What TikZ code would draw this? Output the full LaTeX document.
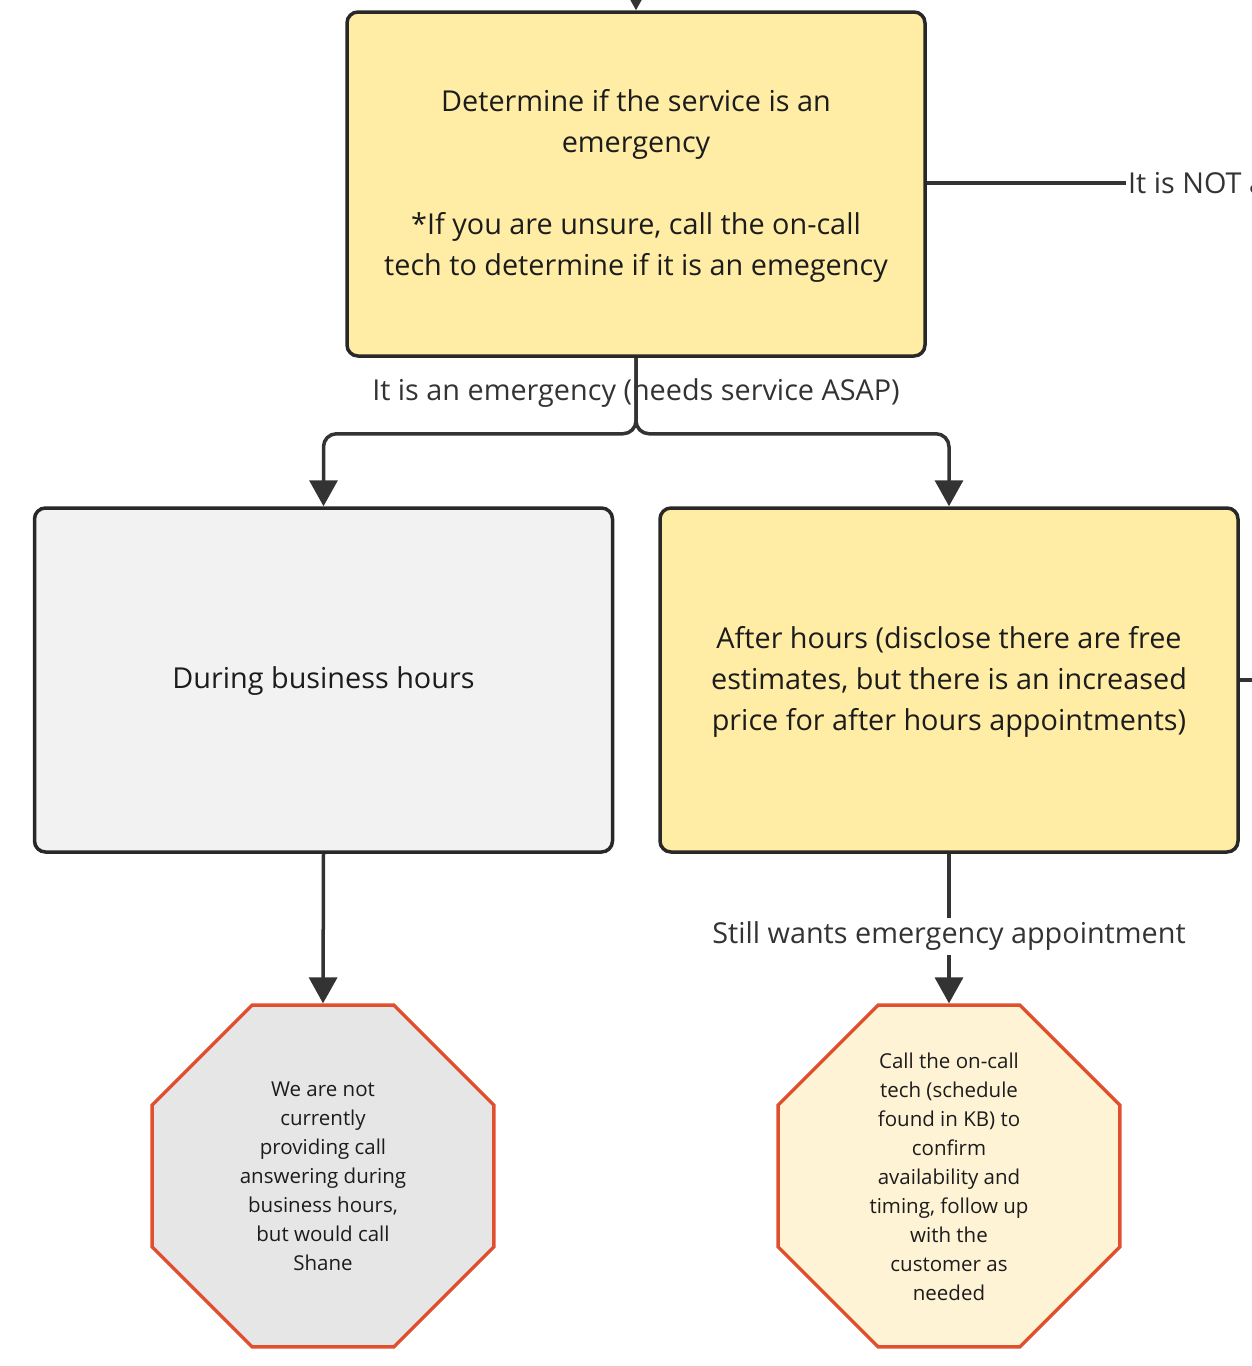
\documentclass[tikz,border=0pt]{standalone}
\usepackage{fontspec}
\setmainfont{Open Sans}
\usetikzlibrary{arrows.meta,shapes.geometric}
\definecolor{ink}{HTML}{282828}
\definecolor{txt}{HTML}{1C1C1C}
\definecolor{lineC}{HTML}{333333}
\definecolor{yel}{HTML}{FFEDA6}
\definecolor{lgray}{HTML}{F2F2F2}
\definecolor{ogray}{HTML}{E6E6E6}
\definecolor{cream}{HTML}{FFF3D6}
\definecolor{redor}{HTML}{E0502F}
\tikzset{
  box/.style={draw=ink, line width=3.5pt, rounded corners=11pt, minimum width=578pt, minimum height=344pt, align=center, inner sep=0pt, text=txt, font=\fontsize{28.8}{41}\selectfont},
  octa/.style={regular polygon, regular polygon sides=8, draw=redor, line width=3.4pt, minimum size=370pt, inner sep=0pt},
  octatext/.style={align=center, text=txt, inner sep=0pt, font=\fontsize{20.5}{29}\selectfont},
  conn/.style={draw=lineC, line width=3.5pt, -{Triangle[length=26pt,width=28pt]}},
  plain/.style={draw=lineC, line width=3.5pt},
  elabel/.style={text=lineC, font=\fontsize{28.8}{41}\selectfont, inner sep=2pt}
}
\begin{document}
\begin{tikzpicture}[x=1pt,y=-1pt]
\useasboundingbox (0,0) rectangle (1252,1366);
\clip (0,0) rectangle (1252,1366);
\node[box, fill=yel] (top) at (636,184) {};
\node[align=center, text=txt, inner sep=0pt, font=\fontsize{28.8}{41}\selectfont] (topt) at (636,185.5) {Determine if the service is an\\emergency\\[41pt]*If you are unsure, call the on-call\\tech to determine if it is an emegency};
\node[box, fill=lgray] (biz) at (323.5,680) {};
\node[align=center, text=txt, inner sep=0pt, font=\fontsize{28.8}{41}\selectfont] (bizt) at (323.5,681.5) {During business hours};
\node[box, fill=yel] (after) at (949,680) {};
\node[align=center, text=txt, inner sep=0pt, font=\fontsize{28.8}{41}\selectfont] (aftert) at (949,681.5) {After hours (disclose there are free\\estimates, but there is an increased\\price for after hours appointments)};
\node[octa, fill=ogray] (oct1) at (323,1176) {};
\node[octatext] (oct1t) at (323,1176.5) {We are not\\currently\\providing call\\answering during\\business hours,\\but would call\\Shane};
\node[octa, fill=cream] (oct2) at (949,1176) {};
\node[octatext] (oct2t) at (949,1176.5) {Call the on-call\\tech (schedule\\found in KB) to\\confirm\\availability and\\timing, follow up\\with the\\customer as\\needed};
% incoming from above
\coordinate (inTop) at (636,-30);
\draw[conn] (inTop) -- (top.north);
% not an emergency
\node[elabel, anchor=west] (notlab) at (1126,183) {It is NOT a};
\draw[plain] (top.east |- notlab.west) -- (notlab.west);
% right stub from after-hours box
\coordinate (offR) at (1270,680);
\draw[plain] (after.east) -- (offR);
% emergency split
\node[elabel] (emlab) at (636,393.5) {It is an emergency (needs service ASAP)};
\draw[conn, rounded corners=13pt] (top.south) -- ++(0,76) -| (biz.north);
\draw[conn, rounded corners=13pt] (top.south) -- ++(0,76) -| (after.north);
% down to octagons
\draw[conn] (biz.south) -- (oct1.north);
\draw[conn] (after.south) -- (oct2.north);
\node[elabel, fill=white, inner sep=4pt] (stlab) at (949,936.5) {Still wants emergency appointment};
\end{tikzpicture}
\end{document}
